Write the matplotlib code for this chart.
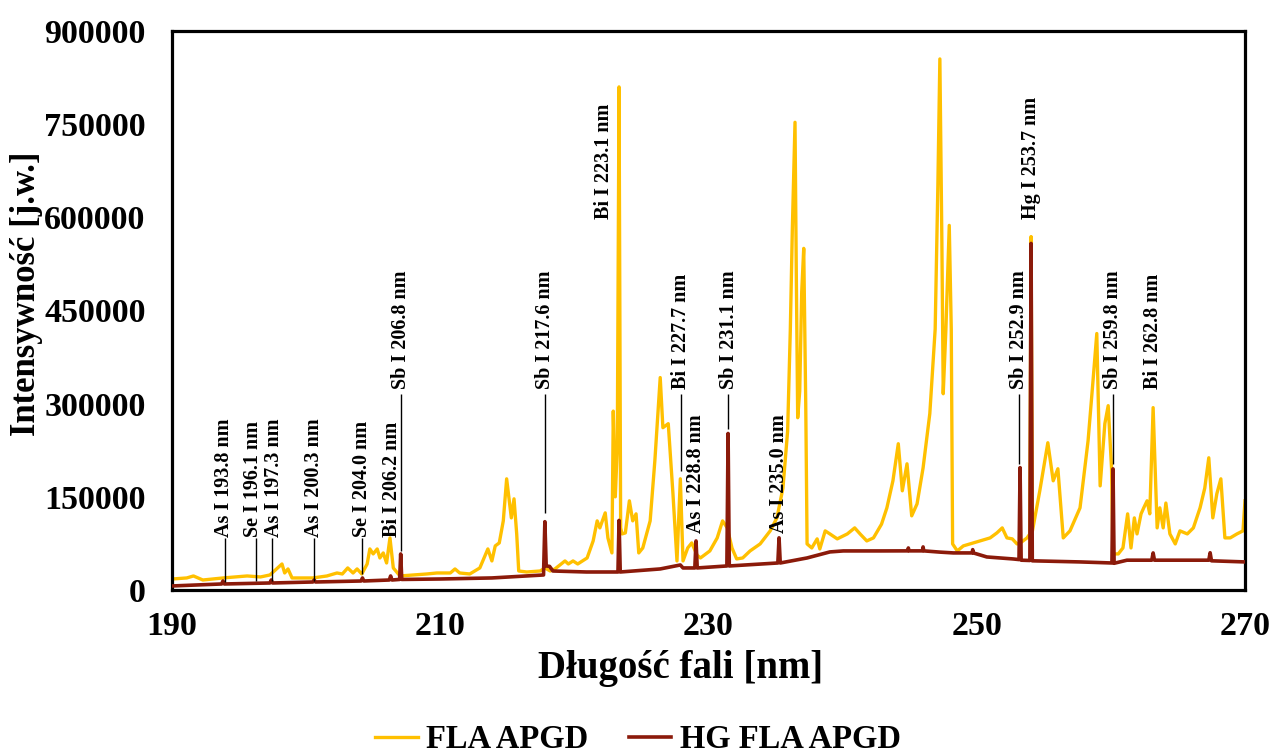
import matplotlib
matplotlib.use('Agg')
import matplotlib.pyplot as plt

# FLA APGD spectrum (wavelength nm, intensity)
fla_nm = [190.0, 191.1, 191.6, 192.3, 193.8, 195.6, 196.6, 197.3, 198.2, 198.4,
          198.65, 198.95, 200.5, 201.55, 202.3, 202.7, 203.1, 203.5, 203.8, 204.15,
          204.55, 204.75, 205.0, 205.3, 205.5, 205.75, 206.0, 206.25, 206.5, 207.0,
          209.0, 209.75, 210.75, 211.1, 211.45, 212.2, 212.95, 213.55, 213.85, 214.1,
          214.4, 214.7, 214.95, 215.3, 215.5, 215.7, 215.85, 216.45, 217.45, 217.8,
          218.2, 218.55, 219.3, 219.55, 219.9, 220.25, 220.95, 221.4, 221.7, 221.9,
          222.3, 222.5, 222.8, 222.9, 223.05, 223.2, 223.33, 223.45, 223.55, 223.8,
          224.1, 224.35, 224.6, 224.8, 225.1, 225.65, 226.0, 226.4, 226.6, 227.0,
          227.35, 227.65, 227.9, 228.1, 228.45, 228.75, 229.15, 229.4, 230.1, 230.65,
          231.05, 231.4, 231.75, 232.1, 232.55, 233.1, 233.85, 234.6, 235.1, 235.55,
          235.9, 236.1, 236.25, 236.45, 236.55, 236.65, 236.8, 236.95, 237.1, 237.25,
          237.35, 237.7, 238.1, 238.3, 238.7, 239.05, 239.6, 240.35, 240.9, 241.3,
          241.8, 242.3, 242.9, 243.3, 243.75, 244.15, 244.45, 244.8, 245.15, 245.55,
          246.0, 246.5, 246.9, 247.1, 247.25, 247.4, 247.5, 247.7, 247.95, 248.1,
          248.2, 248.55, 249.0, 249.5, 250.25, 251.0, 251.5, 251.9, 252.25, 252.65,
          253.0, 253.25, 253.75, 253.95, 254.05, 254.15, 254.7, 255.3, 255.7, 256.05,
          256.45, 256.95, 257.7, 258.3, 258.65, 258.95, 259.2, 259.55, 259.8, 260.05,
          260.15, 260.55, 260.9, 261.25, 261.5, 261.75, 261.95, 262.25, 262.45, 262.7,
          262.9, 263.15, 263.45, 263.65, 263.9, 264.1, 264.4, 264.8, 265.15, 265.7,
          266.15, 266.65, 267.0, 267.3, 267.6, 267.9, 268.2, 268.5, 268.9, 269.4,
          269.85, 270.0]
fla_int = [17700, 19400, 22600, 16100, 19400, 22600, 21000, 24200, 41900, 27400,
           33900, 19400, 19400, 22600, 27400, 25800, 35500, 27400, 33900, 25800,
           41900, 66100, 58100, 66100, 51600, 59700, 43500, 83900, 35500, 22600,
           25800, 27400, 27400, 33900, 27400, 25800, 35500, 66100, 46800, 71000,
           75800, 111300, 179000, 116100, 146800, 90300, 30600, 29000, 30600, 35500,
           30600, 33900, 46800, 41900, 46800, 41900, 51600, 79000, 111300, 100000,
           124200, 83900, 59700, 288000, 150000, 230000, 810000, 100000, 90300, 91900,
           143600, 111300, 122600, 59700, 67700, 111300, 208000, 342000, 261300, 267800,
           154900, 46800, 179000, 46800, 67700, 75800, 56000, 51600, 62900, 83900,
           111300, 100000, 67700, 50000, 51600, 62900, 74200, 95200, 116100, 164000,
           256000, 419000, 580000, 753000, 500000, 277400, 320000, 480000, 550000, 300000,
           74200, 67700, 82300, 66100, 95200, 90300, 82300, 90300, 100000, 90300,
           79000, 83900, 106000, 132300, 175800, 235500, 159700, 203200, 119400, 138700,
           196800, 283900, 420000, 650000, 855000, 560000, 316000, 420000, 587000, 420000,
           74200, 62900, 71000, 74200, 79000, 83900, 91900, 100000, 83900, 82300,
           74200, 75800, 83900, 90000, 569000, 95000, 159700, 237100, 175800, 195200,
           83900, 95200, 132300, 240300, 332000, 412900, 167700, 267800, 296800, 196000,
           58100, 58100, 67700, 122600, 67700, 116100, 90300, 122600, 132300, 143600,
           122600, 293600, 100000, 132300, 100000, 140000, 90300, 74200, 95200, 90300,
           100000, 132300, 164000, 212900, 116100, 154900, 179000, 83900, 83900, 90300,
           95200, 143600]

# HG FLA APGD spectrum
hg_nm = [190.0, 193.7, 193.8, 193.9, 197.3, 197.4, 197.5, 200.5, 200.6, 200.7,
         204.1, 204.2, 204.3, 206.2, 206.3, 206.4, 206.97, 207.05, 207.13, 209.95,
         213.85, 217.7, 217.8, 217.9, 218.15, 218.4, 220.9, 223.25, 223.33, 223.42,
         226.4, 227.9, 228.1, 228.98, 229.07, 229.16, 231.37, 231.46, 231.55, 235.17,
         235.26, 235.35, 237.35, 239.05, 240.05, 242.8, 244.85, 244.9, 244.95, 245.95,
         246.0, 246.05, 247.25, 248.25, 249.65, 249.7, 249.75, 250.75, 252.7, 253.15,
         253.23, 253.31, 253.96, 254.05, 254.14, 254.5, 257.7, 260.08, 260.16, 260.24,
         261.2, 263.05, 263.15, 263.25, 267.3, 267.4, 267.5, 270.0]
hg_int = [6500, 9700, 14500, 9700, 11300, 16100, 11300, 12900, 16100, 12900,
          14500, 19400, 14500, 16100, 22600, 16100, 17000, 58000, 17000, 17700,
          19400, 24200, 110000, 38700, 38000, 30600, 29000, 29000, 112000, 29000,
          33900, 40300, 35500, 35500, 79000, 35500, 38700, 252000, 38700, 43500,
          84000, 43500, 51600, 61300, 62900, 62900, 63000, 67700, 63000, 63000,
          69400, 63000, 61000, 59700, 59700, 65000, 59700, 53200, 50000, 49000,
          197000, 48000, 47500, 558000, 47000, 46800, 45200, 43500, 195000, 43000,
          48000, 48000, 59700, 48000, 48000, 60000, 47000, 45200]

# line labels: text, x (nm), y of text bottom
lab_text = ['As I 193.8 nm', 'Se I 196.1 nm', 'As I 197.3 nm', 'As I 200.3 nm',
            'Se I 204.0 nm', 'Bi I 206.2 nm', 'Sb I 206.8 nm', 'Sb I 217.6 nm',
            'Bi I 223.1 nm', 'Bi I 227.7 nm', 'As I 228.8 nm', 'Sb I 231.1 nm',
            'As I 235.0 nm', 'Sb I 252.9 nm', 'Hg I 253.7 nm', 'Sb I 259.8 nm',
            'Bi I 262.8 nm']
lab_x = [193.9, 196.05, 197.6, 200.59, 204.17, 206.4, 207.07, 217.81,
         222.21, 227.95, 229.07, 231.5, 235.26, 253.15, 254.05, 260.16, 263.14]
lab_y = [85500, 85500, 85500, 85500, 85500, 85500, 324000, 324000,
         598000, 324000, 92000, 324000, 92000, 324000, 598000, 324000, 324000]

# leader lines: x, top, bottom
lead_x = [193.95, 196.26, 197.46, 200.59, 204.17, 207.07, 217.81, 227.95, 231.46, 253.15, 260.16]
lead_top = [83000, 83000, 83000, 83000, 83000, 316000, 316000, 316000, 316000, 316000, 316000]
lead_bot = [12900, 14500, 14500, 14500, 25800, 63000, 124000, 192000, 260000, 203000, 203000]

GOLD = '#FFC000'
DARK = '#8B1A0A'
FONT = 'Liberation Serif'

plt.rcParams['font.family'] = FONT
plt.rcParams['font.weight'] = 'bold'

fig = plt.figure(figsize=(12.73, 7.53), dpi=100)
ax = fig.add_axes([172 / 1273, 1 - 590 / 753, 1073 / 1273, 559 / 753])

ax.plot(fla_nm, fla_int, color=GOLD, linewidth=2.4, label='FLA APGD', zorder=2)
ax.plot(hg_nm, hg_int, color=DARK, linewidth=2.6, label='HG FLA APGD', zorder=3)

ax.vlines(lead_x, lead_bot, lead_top, color='black', linewidth=1.0, zorder=4)
for t, x, y in zip(lab_text, lab_x, lab_y):
    ax.text(x, y, t, rotation=90, ha='center', va='bottom',
            fontsize=14.5, fontweight='bold', zorder=5)

ax.set_xlim(190, 270)
ax.set_ylim(0, 900000)
ax.set_xticks([190, 210, 230, 250, 270])
ax.set_yticks(range(0, 900001, 150000))
ax.tick_params(length=0, labelsize=24.5)
ax.tick_params(axis='y', pad=19)
ax.tick_params(axis='x', pad=15)
for lbl in ax.get_xticklabels() + ax.get_yticklabels():
    lbl.set_fontweight('bold')

for s in ax.spines.values():
    s.set_linewidth(2.3)
    s.set_color('black')

ax.set_xlabel('Długość fali [nm]', fontsize=28, fontweight='bold')
ax.set_ylabel('Intensywność [j.w.]', fontsize=25, fontweight='bold')
ax.xaxis.set_label_coords(0.474, -0.108)
ax.yaxis.set_label_coords(-0.12, 0.53)

fig.legend(loc='center', bbox_to_anchor=(638 / 1273, 1 - 740 / 753), ncol=2,
           frameon=False, prop={'family': FONT, 'weight': 'bold', 'size': 23.5},
           handlelength=1.3, handletextpad=0.25, columnspacing=1.25)

fig.savefig('out.png', dpi=100)
